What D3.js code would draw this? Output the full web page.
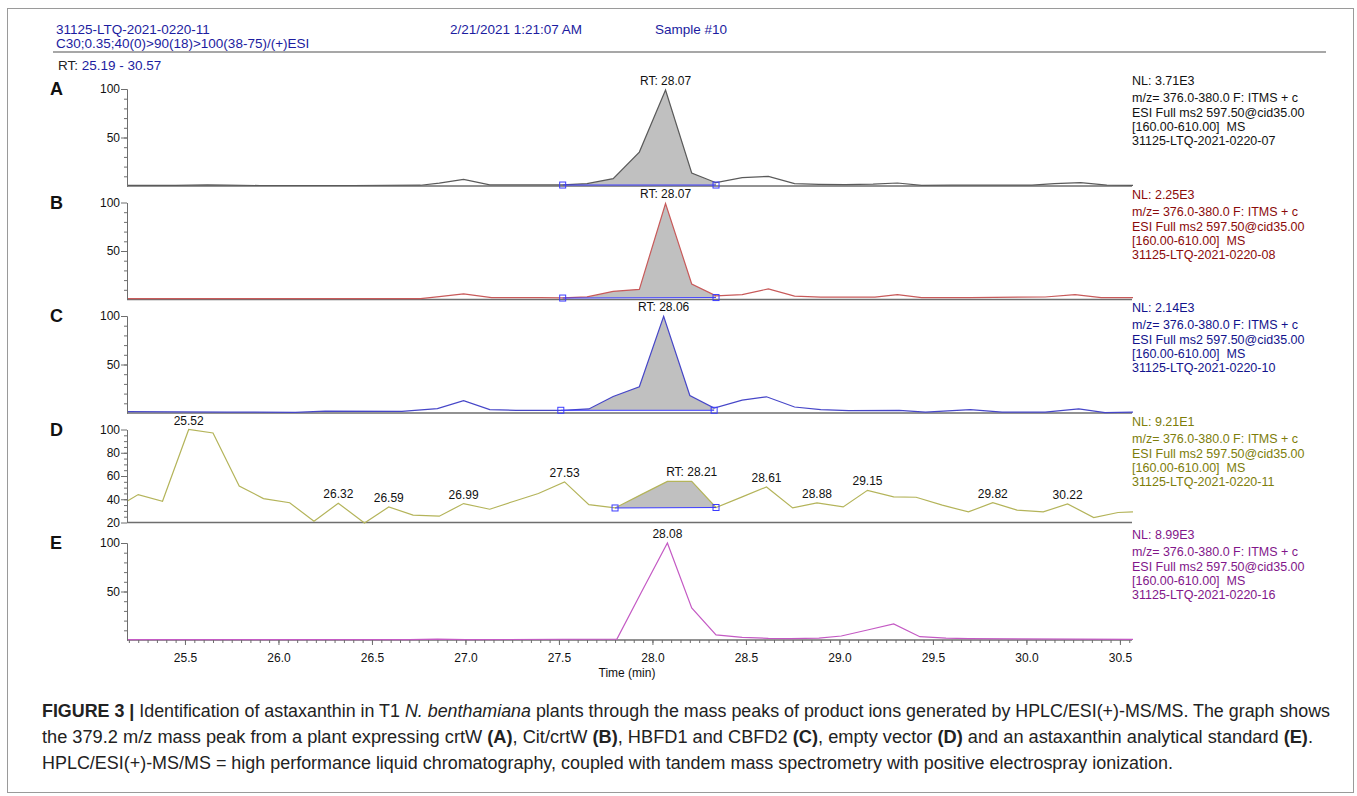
<!DOCTYPE html>
<html>
<head>
<meta charset="utf-8">
<script src="https://cdn.jsdelivr.net/npm/d3@7"></script>
<style>
  body { margin: 0; background: #fff; }
  svg { display: block; font-family: "Liberation Sans", Arial, sans-serif; }
</style>
</head>
<body>
<svg id="chart" width="1357" height="796"></svg>
<script>
// retention time range
const rtRange = [25.19, 30.57];
const xTickLabels = [25.5, 26.0, 26.5, 27.0, 27.5, 28.0, 28.5, 29.0, 29.5, 30.0, 30.5];

// A - crtW
const timesA = [25.19, 25.45, 25.62, 25.72, 25.90, 26.40, 26.76, 26.86, 26.99, 27.13, 27.52, 27.65, 27.79, 27.93, 28.07, 28.21, 28.34, 28.48, 28.62, 28.76, 28.89, 29.03, 29.18, 29.31, 29.44, 29.60, 29.85, 30.03, 30.15, 30.29, 30.43, 30.57];
const valuesA = [0.6, 0.6, 1.2, 0.8, 0.5, 0.5, 0.8, 3.0, 6.9, 1.2, 1.2, 2.4, 7.6, 35, 99, 13.4, 3.4, 8.6, 10, 2.4, 1.7, 1.4, 2.0, 3.1, 0.7, 1.0, 1.0, 1.0, 2.4, 3.4, 1.0, 0.7];

// B - Cit/crtW
const timesB = [25.19, 26.76, 26.86, 26.99, 27.14, 27.40, 27.52, 27.65, 27.79, 27.93, 28.07, 28.21, 28.34, 28.48, 28.62, 28.76, 28.90, 29.19, 29.31, 29.44, 29.70, 30.10, 30.26, 30.40, 30.57];
const valuesB = [1.0, 1.0, 3.0, 5.7, 2.0, 2.0, 1.6, 2.7, 8.4, 10.5, 99, 16, 3.7, 5.0, 11, 3.4, 2.4, 2.4, 5.0, 2.0, 2.0, 2.6, 5.0, 2.0, 2.0];

// C - HBFD1 and CBFD2
const timesC = [25.19, 25.72, 26.09, 26.25, 26.66, 26.85, 26.99, 27.13, 27.27, 27.52, 27.66, 27.79, 27.93, 28.06, 28.20, 28.33, 28.48, 28.61, 28.76, 28.90, 29.05, 29.32, 29.46, 29.70, 29.87, 30.10, 30.28, 30.42, 30.57];
const valuesC = [1.4, 1.0, 0.7, 2.0, 1.7, 4.5, 12.8, 3.5, 2.8, 2.8, 4.2, 17, 27, 99.7, 18, 5.0, 13.2, 16.7, 6.2, 3.5, 2.4, 2.8, 1.0, 3.5, 1.0, 1.0, 4.2, 0.3, 1.0];

// D - empty vector
const timesD = [25.19, 25.25, 25.38, 25.52, 25.65, 25.79, 25.92, 26.06, 26.19, 26.32, 26.46, 26.59, 26.72, 26.86, 26.99, 27.13, 27.26, 27.39, 27.53, 27.66, 27.80, 27.94, 28.08, 28.21, 28.34, 28.48, 28.61, 28.75, 28.88, 29.02, 29.15, 29.29, 29.41, 29.55, 29.69, 29.82, 29.95, 30.09, 30.22, 30.36, 30.49, 30.57];
const valuesD = [38.3, 44, 38.3, 100, 97, 51.4, 40.6, 37, 21, 36.6, 19.5, 33.4, 26.3, 25.4, 36.3, 31.4, 38.3, 44.9, 54.9, 35.4, 32.5, 44, 55.4, 55.4, 32.9, 42, 50.6, 32.6, 36.9, 33.4, 47.7, 42, 41.7, 34.9, 29.1, 37.1, 30.6, 29.1, 36, 24.3, 28.6, 29.1];

// E - astaxanthin standard
const timesE = [25.19, 26.70, 26.85, 27.00, 27.81, 27.94, 28.08, 28.21, 28.34, 28.48, 28.62, 28.74, 28.89, 29.01, 29.15, 29.29, 29.43, 29.57, 29.69, 30.57];
const valuesE = [0.3, 0.3, 0.8, 0.3, 1.0, 49, 100, 33, 5.2, 2.8, 1.7, 1.4, 2.0, 4.1, 10.3, 16.6, 3.4, 2.0, 1.4, 0.7];

// labelled peaks [time, text]
const peaksA = [[28.07, "RT: 28.07"]];
const peaksB = [[28.07, "RT: 28.07"]];
const peaksC = [[28.06, "RT: 28.06"]];
const peaksD = [[25.52, "25.52"], [26.32, "26.32"], [26.59, "26.59"], [26.99, "26.99"], [27.53, "27.53"], [28.21, "RT: 28.21"], [28.61, "28.61"], [28.88, "28.88"], [29.15, "29.15"], [29.82, "29.82"], [30.22, "30.22"]];
const peaksE = [[28.08, "28.08"]];

// integration windows [start, end, baseline at start, baseline at end]
const integA = [27.52, 28.34, 1.0, 1.0];
const integB = [27.52, 28.34, 1.5, 2.0];
const integC = [27.51, 28.33, 2.8, 2.8];
const integD = [27.80, 28.34, 32.5, 32.9];

const nlValues = ["NL: 3.71E3", "NL: 2.25E3", "NL: 2.14E3", "NL: 9.21E1", "NL: 8.99E3"];
const fileIds = ["31125-LTQ-2021-0220-07", "31125-LTQ-2021-0220-08", "31125-LTQ-2021-0220-10", "31125-LTQ-2021-0220-11", "31125-LTQ-2021-0220-16"];

let panels = [
    {key: "A", t: timesA, v: valuesA, peaks: peaksA, integ: integA, line: "#5a5a5a", text: "#111", yMin: 0},
    {key: "B", t: timesB, v: valuesB, peaks: peaksB, integ: integB, line: "#c85a5a", text: "#8b0a0a", yMin: 0},
    {key: "C", t: timesC, v: valuesC, peaks: peaksC, integ: integC, line: "#4646c8", text: "#12128c", yMin: 0},
    {key: "D", t: timesD, v: valuesD, peaks: peaksD, integ: integD, line: "#b4b45a", text: "#7d7d0a", yMin: 20},
    {key: "E", t: timesE, v: valuesE, peaks: peaksE, integ: null, line: "#c45ac4", text: "#82168a", yMin: 0}
];

let svg = d3.select("#chart");
const font = '"Liberation Sans", Arial, sans-serif';

// outer frame
svg.append("rect")
    .attr("x", 7.5).attr("y", 8.5)
    .attr("width", 1346).attr("height", 784)
    .attr("fill", "none").attr("stroke", "#9a9a9a").attr("stroke-width", 1);

//
// HEADER
//
let header = svg.append("g").attr("font-size", 13.5).attr("fill", "#1c1ca0");
header.append("text").attr("x", 56).attr("y", 34).text("31125-LTQ-2021-0220-11");
header.append("text").attr("x", 56).attr("y", 48).text("C30;0.35;40(0)>90(18)>100(38-75)/(+)ESI");
header.append("text").attr("x", 450).attr("y", 34).text("2/21/2021 1:21:07 AM");
header.append("text").attr("x", 655).attr("y", 34).text("Sample #10");
svg.append("line")
    .attr("x1", 53).attr("x2", 1326).attr("y1", 52).attr("y2", 52)
    .attr("stroke", "#8a8a8a").attr("stroke-width", 1.5);
let rtText = svg.append("text").attr("x", 58).attr("y", 70).attr("font-size", 13.5);
rtText.append("tspan").attr("fill", "#222").text("RT: ");
rtText.append("tspan").attr("fill", "#1c1ca0").text(rtRange[0].toFixed(2) + " - " + rtRange[1].toFixed(2));

// shared x scale
let x = d3.scaleLinear().domain(rtRange).range([127, 1133]);
const axisEnd = 1132;

panels.forEach((p, i) => {
    let top = 89 + i * 113.5;
    let bottom = p.yMin === 20 ? top + 93 : top + 97;
    let y = d3.scaleLinear().domain([p.yMin, 100]).range([bottom, top]);
    let g = svg.append("g");

    // panel letter
    g.append("text")
        .attr("x", 50).attr("y", top + 6)
        .attr("font-size", 18).attr("font-weight", "bold").attr("fill", "#111")
        .text(p.key);

    // integrated peak fill
    if (p.integ) {
        let [s, e, b0, b1] = p.integ;
        let interp = d3.scaleLinear().domain(p.t).range(p.v);
        let upper = [[s, interp(s)]];
        p.t.forEach((t, k) => { if (t > s && t < e) upper.push([t, p.v[k]]); });
        upper.push([e, interp(e)]);
        let poly = upper.concat([[e, b1], [s, b0]]);
        g.append("path")
            .attr("d", d3.line().x(d => x(d[0])).y(d => y(d[1]))(poly) + "Z")
            .attr("fill", "#c0c0c0").attr("stroke", "none");
    }

    // baseline (x axis line)
    g.append("line")
        .attr("x1", x(rtRange[0])).attr("x2", axisEnd)
        .attr("y1", bottom).attr("y2", bottom)
        .attr("stroke", "#6e6e6e").attr("stroke-width", 1.5);

    // trace
    let pts = p.t.map((t, k) => [t, p.v[k]]);
    g.append("path")
        .attr("d", d3.line().x(d => x(d[0])).y(d => y(d[1]))(pts))
        .attr("fill", "none").attr("stroke", p.line).attr("stroke-width", 1.2);

    // integration baseline + markers
    if (p.integ) {
        let [s, e, b0, b1] = p.integ;
        g.append("line")
            .attr("x1", x(s)).attr("x2", x(e)).attr("y1", y(b0)).attr("y2", y(b1))
            .attr("stroke", "#3c3cff").attr("stroke-width", 1);
        [[s, b0], [e, b1]].forEach(d => {
            g.append("rect")
                .attr("x", x(d[0]) - 3).attr("y", y(d[1]) - 3)
                .attr("width", 6).attr("height", 6)
                .attr("fill", "none").attr("stroke", "#3c3cff").attr("stroke-width", 1);
        });
    }

    // y axis
    let majors = p.yMin === 20 ? [20, 40, 60, 80, 100] : [50, 100];
    let minors = p.yMin === 20 ? d3.range(25, 100, 5) : d3.range(10, 100, 10);
    let yAxisMinor = g.append("g")
        .attr("transform", "translate(" + x(rtRange[0]) + ",0)")
        .call(d3.axisLeft(y).tickValues(minors).tickSize(3).tickSizeOuter(0).tickFormat(""));
    let yAxis = g.append("g")
        .attr("transform", "translate(" + x(rtRange[0]) + ",0)")
        .call(d3.axisLeft(y).tickValues(majors).tickSize(6).tickSizeOuter(0).tickPadding(1));
    [yAxisMinor, yAxis].forEach(a => {
        a.selectAll("path, line").attr("stroke", "#6e6e6e");
        a.selectAll("text").attr("font-family", font).attr("font-size", 12).attr("fill", "#111");
    });

    // peak labels
    p.peaks.forEach(([t, label]) => {
        let k = d3.minIndex(p.t, tt => Math.abs(tt - t));
        g.append("text")
            .attr("x", x(t)).attr("y", y(p.v[k]) - 5)
            .attr("text-anchor", "middle").attr("font-size", 12).attr("fill", "#111")
            .text(label);
    });

    // scan info block
    let info = [nlValues[i], "m/z= 376.0-380.0 F: ITMS + c", "ESI Full ms2 597.50@cid35.00", "[160.00-610.00]  MS", fileIds[i]];
    let infoY = [top - 4, top + 13, top + 28, top + 42, top + 56];
    info.forEach((line, k) => {
        g.append("text")
            .attr("x", 1132).attr("y", infoY[k])
            .attr("font-size", 12.5).attr("fill", p.text)
            .attr("xml:space", "preserve")
            .text(line);
    });

    // bottom time axis on last panel
    if (i === panels.length - 1) {
        let minorAxis = g.append("g")
            .attr("transform", "translate(0," + bottom + ")")
            .call(d3.axisBottom(x).tickValues(d3.range(25.2, 30.57, 0.05)).tickSize(3).tickFormat(""));
        let majorAxis = g.append("g")
            .attr("transform", "translate(0," + bottom + ")")
            .call(d3.axisBottom(x).tickValues(xTickLabels).tickSize(5).tickPadding(8).tickFormat(d3.format(".1f")));
        [minorAxis, majorAxis].forEach(a => {
            a.select(".domain").remove();
            a.selectAll("line").attr("stroke", "#6e6e6e");
            a.selectAll("text").attr("font-family", font).attr("font-size", 12).attr("fill", "#111");
        });
        g.append("text")
            .attr("x", 627).attr("y", bottom + 37)
            .attr("text-anchor", "middle").attr("font-size", 12).attr("fill", "#111")
            .text("Time (min)");
    }
});

//
// CAPTION
//
let captionLines = [
    [["b", "FIGURE 3 | "], ["", "Identification of astaxanthin in T1 "], ["i", "N. benthamiana"], ["", " plants through the mass peaks of product ions generated by HPLC/ESI(+)-MS/MS. The graph shows"]],
    [["", "the 379.2 m/z mass peak from a plant expressing crtW "], ["b", "(A)"], ["", ", Cit/crtW "], ["b", "(B)"], ["", ", HBFD1 and CBFD2 "], ["b", "(C)"], ["", ", empty vector "], ["b", "(D)"], ["", " and an astaxanthin analytical standard "], ["b", "(E)"], ["", "."]],
    [["", "HPLC/ESI(+)-MS/MS = high performance liquid chromatography, coupled with tandem mass spectrometry with positive electrospray ionization."]]
];
const captionWidths = [1288, 1271, 1131];
captionLines.forEach((parts, k) => {
    let t = svg.append("text")
        .attr("x", 42).attr("y", 717 + k * 26)
        .attr("font-size", 17.5).attr("fill", "#222")
        .attr("textLength", captionWidths[k]).attr("lengthAdjust", "spacingAndGlyphs")
        .attr("xml:space", "preserve");
    parts.forEach(([style, str]) => {
        let s = t.append("tspan").text(str);
        if (style === "b") s.attr("font-weight", "bold");
        if (style === "i") s.attr("font-style", "italic");
    });
});
</script>
</body>
</html>
